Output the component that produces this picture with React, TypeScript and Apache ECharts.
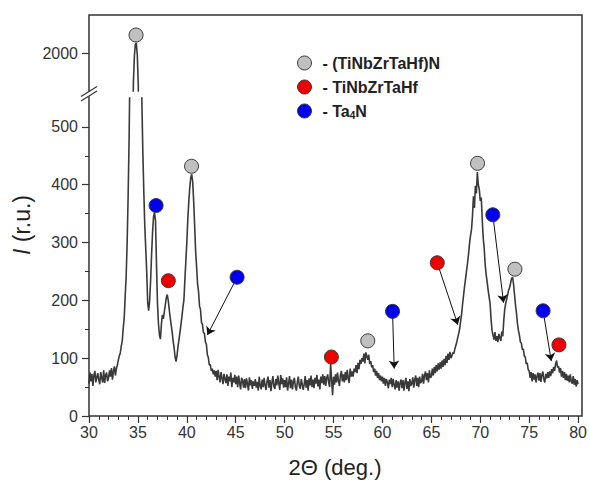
import React, { useEffect, useRef } from 'react';
import * as echarts from 'echarts';

// 2Θ sampling: start at 30°, one sample every 0.1° (one row below = one degree)
const TWO_THETA_START = 30;
const TWO_THETA_STEP = 0.1;

// Intensity readings (r.u.), one row per degree from 30° to 79.9°, then 80°
const intensity: number[] = [
  56, 75, 60, 73, 52, 70, 78, 58, 67, 74, // 30
  62, 55, 76, 66, 58, 79, 57, 71, 75, 60, // 31
  66, 79, 68, 83, 63, 77, 86, 70, 82, 88, // 32
  97, 104, 109, 121, 130, 152, 170, 207, 242, 300, // 33
  380, 480, 620, 900, 1500, 1880, 1985, 2035, 2040, 1990, // 34
  1870, 1300, 800, 610, 550, 460, 390, 330, 290, 250, // 35
  196, 182, 200, 235, 280, 318, 345, 352, 338, 262, // 36
  195, 160, 140, 133, 158, 175, 168, 180, 192, 204, // 37
  210, 200, 185, 170, 158, 145, 130, 118, 102, 94, // 38
  105, 120, 132, 145, 158, 172, 188, 200, 235, 268, // 39
  300, 340, 370, 395, 412, 418, 405, 372, 330, 285, // 40
  258, 228, 215, 190, 184, 162, 158, 144, 143, 128, // 41
  124, 106, 101, 88, 89, 78, 82, 72, 79, 68, // 42
  78, 62, 80, 68, 58, 76, 66, 55, 73, 64, // 43
  57, 72, 52, 68, 60, 75, 50, 66, 58, 71, // 44
  55, 68, 50, 70, 57, 46, 66, 61, 49, 64, // 45
  48, 65, 56, 44, 67, 53, 62, 47, 60, 52, // 46
  64, 49, 59, 44, 68, 52, 46, 63, 50, 66, // 47
  53, 45, 60, 68, 49, 62, 43, 58, 69, 51, // 48
  47, 64, 53, 70, 57, 45, 71, 55, 65, 49, // 49
  62, 50, 67, 44, 56, 69, 48, 63, 46, 60, // 50
  66, 50, 44, 59, 68, 52, 47, 64, 55, 45, // 51
  55, 69, 49, 62, 44, 65, 53, 70, 50, 63, // 52
  48, 66, 56, 71, 51, 63, 46, 68, 57, 72, // 53
  54, 69, 52, 66, 72, 58, 50, 90, 64, 36, // 54
  68, 54, 72, 58, 75, 61, 52, 70, 78, 60, // 55
  72, 58, 76, 62, 80, 65, 57, 82, 68, 77, // 56
  68, 82, 76, 88, 74, 92, 81, 97, 90, 100, // 57
  94, 108, 91, 110, 104, 97, 106, 90, 95, 84, // 58
  88, 76, 82, 70, 78, 66, 74, 62, 70, 60, // 59
  68, 56, 66, 52, 64, 58, 48, 63, 55, 66, // 60
  50, 64, 54, 46, 62, 49, 60, 44, 57, 63, // 61
  48, 62, 44, 58, 66, 47, 60, 43, 64, 52, // 62
  56, 67, 49, 63, 70, 52, 66, 50, 68, 57, // 63
  60, 73, 56, 70, 77, 62, 74, 58, 79, 66, // 64
  68, 82, 70, 85, 74, 88, 77, 91, 80, 93, // 65
  82, 96, 85, 99, 88, 104, 92, 108, 97, 111, // 66
  100, 104, 110, 108, 116, 122, 128, 136, 143, 152, // 67
  165, 178, 195, 210, 225, 238, 252, 265, 280, 298, // 68
  312, 322, 345, 380, 360, 398, 385, 422, 400, 392, // 69
  372, 378, 340, 308, 290, 262, 245, 232, 218, 206, // 70
  195, 168, 148, 140, 132, 145, 130, 138, 128, 142, // 71
  135, 130, 146, 138, 165, 185, 195, 202, 210, 218, // 72
  222, 230, 238, 240, 228, 210, 192, 178, 160, 148, // 73
  140, 128, 126, 115, 116, 104, 102, 90, 92, 80, // 74
  78, 66, 76, 60, 74, 63, 72, 58, 69, 75, // 75
  61, 74, 59, 71, 77, 63, 58, 73, 65, 76, // 76
  66, 77, 69, 81, 74, 85, 78, 90, 96, 84, // 77
  86, 75, 83, 68, 78, 66, 76, 62, 73, 61, // 78
  70, 58, 72, 60, 56, 69, 54, 64, 51, 62, // 79
  55, // 80
];

// Phase markers [2Θ, I]
const nitrideMarkersUpper = [[34.77, 2071]];
const nitrideMarkers = [[40.48, 432], [58.5, 130], [69.72, 437], [73.54, 254]];
const alloyMarkers = [[38.11, 234], [54.78, 102], [65.6, 265], [78.04, 123]];
const ta4nMarkers = [[36.86, 364], [45.14, 240], [61.03, 181], [71.28, 348], [76.42, 182]];

// Arrows from marker to the reflection they label
const arrowPairs = [
  [[45.14, 240], [42.1, 140]],
  [[61.03, 181], [61.2, 82]],
  [[65.6, 265], [67.7, 158]],
  [[71.28, 348], [72.38, 196]],
  [[76.42, 182], [77.26, 95]],
];

const yTicksLower = [0, 100, 200, 300, 400, 500];
const yMinorTicksLower = [50, 150, 250, 350, 450];
const yTicksUpper = [2000];

const seriesNames = ['(TiNbZrTaHf)N', 'TiNbZrTaHf', 'Ta4N'];
const seriesColors = ['#c0c0c0', '#ee0000', '#0000ee'];

const FONT = "'Liberation Sans', Arial, Helvetica, sans-serif";

export default function App() {
  const ref = useRef<HTMLDivElement>(null);

  useEffect(() => {
    if (!ref.current) return;
    const chart = echarts.init(ref.current, undefined, { renderer: 'svg' });

    const pattern = intensity.map((v, i) => [
      +(TWO_THETA_START + i * TWO_THETA_STEP).toFixed(1),
      v,
    ]);

    const markerStyle = (c: string) => ({
      color: c,
      borderColor: '#3a3a3a',
      borderWidth: 1,
      opacity: 1,
    });

    const plain = (v: number) => String(v);

    const L = 89, R = 582, T = 15, B = 416;

    chart.setOption({
      animation: false,
      backgroundColor: '#ffffff',
      textStyle: { fontFamily: FONT },
      grid: [
        { left: L, right: 590 - R, top: T, height: 76 },
        { left: L, right: 590 - R, top: 98, height: B - 98 },
      ],
      xAxis: [
        { type: 'value', gridIndex: 0, min: 30, max: 80, show: false },
        {
          type: 'value',
          gridIndex: 1,
          min: 30,
          max: 80,
          interval: 5,
          axisLine: { show: false },
          axisTick: { show: true, length: 7, lineStyle: { color: '#333', width: 1.2 } },
          minorTick: { show: true, splitNumber: 5, length: 4, lineStyle: { color: '#333', width: 1 } },
          axisLabel: { fontSize: 16, color: '#333', margin: 8, fontFamily: FONT, formatter: plain },
          splitLine: { show: false },
          minorSplitLine: { show: false },
        },
      ],
      yAxis: [
        {
          type: 'value',
          gridIndex: 0,
          position: 'left',
          min: 1850,
          max: 2150,
          axisLine: { show: false },
          axisTick: { show: true, length: 7, customValues: yTicksUpper, lineStyle: { color: '#333', width: 1.2 } },
          axisLabel: { customValues: yTicksUpper, fontSize: 16, color: '#333', margin: 11, fontFamily: FONT, formatter: plain },
          splitLine: { show: false },
        },
        {
          type: 'value',
          gridIndex: 1,
          position: 'left',
          min: 0,
          max: 550,
          axisLine: { show: false },
          axisTick: { show: true, length: 7, customValues: yTicksLower, lineStyle: { color: '#333', width: 1.2 } },
          axisLabel: { customValues: yTicksLower, fontSize: 16, color: '#333', margin: 11, fontFamily: FONT, formatter: plain },
          splitLine: { show: false },
        },
        {
          type: 'value',
          gridIndex: 1,
          position: 'left',
          offset: 0,
          min: 0,
          max: 550,
          axisLine: { show: false },
          axisTick: { show: true, length: 4, customValues: yMinorTicksLower, lineStyle: { color: '#333', width: 1 } },
          axisLabel: { show: false },
          splitLine: { show: false },
        },
      ],
      legend: {
        orient: 'vertical',
        left: 297,
        top: 55,
        padding: 0,
        itemWidth: 14,
        itemHeight: 14,
        itemGap: 8,
        icon: 'circle',
        data: seriesNames,
        itemStyle: { borderColor: '#3a3a3a', borderWidth: 1 },
        formatter: (name: string) => (name === 'Ta4N' ? '- Ta{sub|4}N' : '- ' + name),
        textStyle: {
          fontSize: 16,
          fontWeight: 'bold',
          color: '#222',
          fontFamily: FONT,
          padding: [0, 0, 0, 6],
          rich: {
            sub: { fontSize: 10, fontWeight: 'bold', color: '#222', fontFamily: FONT, padding: [9, 0, 0, 0] },
          },
        },
      },
      series: [
        {
          type: 'line',
          name: 'pattern-upper',
          xAxisIndex: 0,
          yAxisIndex: 0,
          data: pattern,
          showSymbol: false,
          symbol: 'none',
          clip: true,
          lineStyle: { color: '#3a3a3a', width: 1.6 },
          z: 2,
        },
        {
          type: 'line',
          name: 'pattern',
          xAxisIndex: 1,
          yAxisIndex: 1,
          data: pattern,
          showSymbol: false,
          symbol: 'none',
          clip: true,
          lineStyle: { color: '#3a3a3a', width: 1.6 },
          z: 2,
        },
        {
          type: 'lines',
          coordinateSystem: 'cartesian2d',
          xAxisIndex: 1,
          yAxisIndex: 1,
          data: arrowPairs.map((c) => ({ coords: c })),
          symbol: ['none', 'arrow'],
          symbolSize: 8,
          lineStyle: { color: '#111', width: 1, opacity: 1 },
          z: 3,
        },
        {
          type: 'scatter',
          name: seriesNames[0],
          xAxisIndex: 0,
          yAxisIndex: 0,
          data: nitrideMarkersUpper,
          symbolSize: 14,
          itemStyle: markerStyle(seriesColors[0]),
          z: 5,
        },
        {
          type: 'scatter',
          name: seriesNames[0],
          xAxisIndex: 1,
          yAxisIndex: 1,
          data: nitrideMarkers,
          symbolSize: 14,
          itemStyle: markerStyle(seriesColors[0]),
          z: 5,
        },
        {
          type: 'scatter',
          name: seriesNames[1],
          xAxisIndex: 1,
          yAxisIndex: 1,
          data: alloyMarkers,
          symbolSize: 14,
          itemStyle: markerStyle(seriesColors[1]),
          z: 5,
        },
        {
          type: 'scatter',
          name: seriesNames[2],
          xAxisIndex: 1,
          yAxisIndex: 1,
          data: ta4nMarkers,
          symbolSize: 14,
          itemStyle: markerStyle(seriesColors[2]),
          z: 5,
        },
      ],
      graphic: [
        {
          type: 'rect',
          shape: { x: L, y: T, width: R - L, height: B - T },
          style: { fill: 'none', stroke: '#333', lineWidth: 1.5 },
          z: 10,
          silent: true,
        },
        {
          type: 'line',
          shape: { x1: 83, y1: 98, x2: 95, y2: 90 },
          style: { stroke: '#fff', lineWidth: 4 },
          z: 11,
        },
        {
          type: 'line',
          shape: { x1: 81, y1: 101, x2: 97, y2: 91 },
          style: { stroke: '#333', lineWidth: 1.2 },
          z: 12,
        },
        {
          type: 'line',
          shape: { x1: 81, y1: 96.5, x2: 97, y2: 86.5 },
          style: { stroke: '#333', lineWidth: 1.2 },
          z: 12,
        },
        {
          type: 'text',
          x: 335,
          y: 467,
          style: {
            text: '2Θ (deg.)',
            font: `22px ${FONT}`,
            fill: '#222',
            align: 'center',
            verticalAlign: 'middle',
          },
        },
        {
          type: 'text',
          x: 22,
          y: 225,
          rotation: Math.PI / 2,
          style: {
            text: '{i|I} (r.u.)',
            font: `23px ${FONT}`,
            fill: '#222',
            align: 'center',
            verticalAlign: 'middle',
            rich: {
              i: { fontStyle: 'italic', fontSize: 23, fontFamily: FONT, fill: '#222' },
            },
          },
        },
      ],
    });

    return () => chart.dispose();
  }, []);

  return (
    <div
      ref={ref}
      style={{ position: 'fixed', left: 0, top: 0, width: 590, height: 481, background: '#fff' }}
    />
  );
}
